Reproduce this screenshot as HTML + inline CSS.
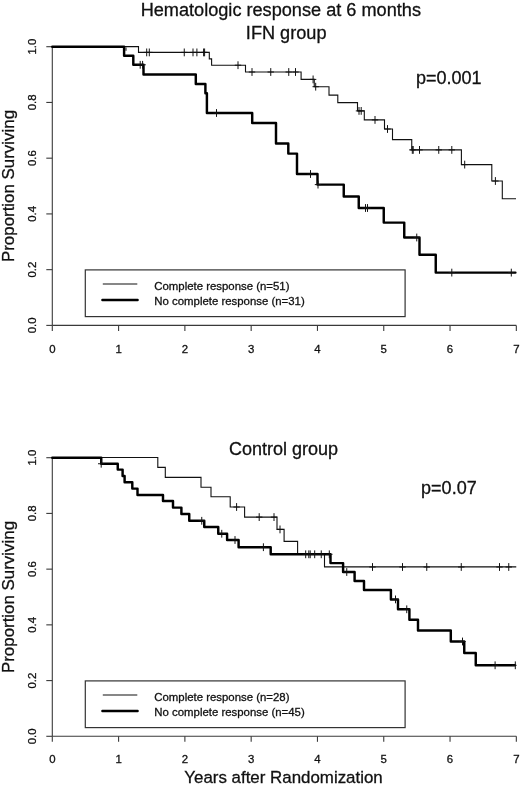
<!DOCTYPE html>
<html><head><meta charset="utf-8"><title>Hematologic response at 6 months</title>
<style>
html,body{margin:0;padding:0;background:#fff;}
svg{display:block;will-change:transform;}
text{font-family:"Liberation Sans",sans-serif;fill:#111;stroke:#111;stroke-width:0.3px;}
.tt{font-size:18px;}
.al{font-size:16.9px;}
.tk{font-size:11.4px;}
.lg{font-size:11.4px;}
.ax{stroke:#3a3a3a;stroke-width:1.1;fill:none;}
.thin{stroke:#111;stroke-width:1.1;fill:none;stroke-linejoin:miter;}
.thick{stroke:#000;stroke-width:2.45;fill:none;stroke-linejoin:round;stroke-linecap:round;}
.cs{stroke:#111;stroke-width:1;fill:none;}
.bx{stroke:#333;stroke-width:1.2;fill:none;}
</style></head>
<body>
<svg width="520" height="785" viewBox="0 0 520 785">
<defs><clipPath id="cp"><rect x="40" y="0" width="476.6" height="785"/></clipPath></defs>
<rect width="520" height="785" fill="#fff"/>
<path d="M52.3 46.7 V325.4" class="ax"/>
<path d="M52.3 325.4 H516.33" class="ax"/>
<path d="M52.30 325.4 v5.5" class="ax"/>
<text x="52.30" y="352.50" class="tk" text-anchor="middle">0</text>
<path d="M118.59 325.4 v5.5" class="ax"/>
<text x="118.59" y="352.50" class="tk" text-anchor="middle">1</text>
<path d="M184.88 325.4 v5.5" class="ax"/>
<text x="184.88" y="352.50" class="tk" text-anchor="middle">2</text>
<path d="M251.17 325.4 v5.5" class="ax"/>
<text x="251.17" y="352.50" class="tk" text-anchor="middle">3</text>
<path d="M317.46 325.4 v5.5" class="ax"/>
<text x="317.46" y="352.50" class="tk" text-anchor="middle">4</text>
<path d="M383.75 325.4 v5.5" class="ax"/>
<text x="383.75" y="352.50" class="tk" text-anchor="middle">5</text>
<path d="M450.04 325.4 v5.5" class="ax"/>
<text x="450.04" y="352.50" class="tk" text-anchor="middle">6</text>
<path d="M516.33 325.4 v5.5" class="ax"/>
<text x="516.33" y="352.50" class="tk" text-anchor="middle">7</text>
<path d="M52.3 325.40 h-6" class="ax"/>
<text transform="translate(36.4 325.40) rotate(-90)" class="tk" text-anchor="middle">0.0</text>
<path d="M52.3 269.66 h-6" class="ax"/>
<text transform="translate(36.4 269.66) rotate(-90)" class="tk" text-anchor="middle">0.2</text>
<path d="M52.3 213.92 h-6" class="ax"/>
<text transform="translate(36.4 213.92) rotate(-90)" class="tk" text-anchor="middle">0.4</text>
<path d="M52.3 158.18 h-6" class="ax"/>
<text transform="translate(36.4 158.18) rotate(-90)" class="tk" text-anchor="middle">0.6</text>
<path d="M52.3 102.44 h-6" class="ax"/>
<text transform="translate(36.4 102.44) rotate(-90)" class="tk" text-anchor="middle">0.8</text>
<path d="M52.3 46.70 h-6" class="ax"/>
<text transform="translate(36.4 46.70) rotate(-90)" class="tk" text-anchor="middle">1.0</text>
<path d="M52.3 46.6 H138.5 V52.4 H209.3 V58.9 H211.6 V65.2 H245.5 V72.0 H301.1 V79.4 H314.25 V86.7 H329 V95.1 H337.8 V102.6 H357.5 V110.9 H364.3 V119.9 H384.5 V129.0 H392.5 V139.6 H411.75 V149.9 H461.4 V164.6 H491.8 V181.0 H502.3 V198.8 H516.0" class="thin"/>
<path d="M52.3 46.7 H124.1 V55.8 H133.3 V64.8 H143.5 V74.5 H195.8 V83.9 H205.4 V93.2 H206.9 V113.0 H252.2 V123.0 H276 V143.5 H288.3 V153.6 H297 V174.0 H317.5 V184.6 H343.75 V196.4 H358.75 V208.0 H383.75 V222.6 H404.25 V237.5 H419.5 V254.7 H435.75 V272.6 H515.4" class="thick"/>
<path d="M146.7 48.50v7.8M143.50 52.4h6.4M149.3 48.50v7.8M146.10 52.4h6.4M184.25 48.50v7.8M181.05 52.4h6.4M193 48.50v7.8M189.80 52.4h6.4M196.9 48.50v7.8M193.70 52.4h6.4M203.6 48.50v7.8M200.40 52.4h6.4M204.6 48.50v7.8M201.40 52.4h6.4M238 61.30v7.8M234.80 65.2h6.4M252 68.10v7.8M248.80 72.0h6.4M270.75 68.10v7.8M267.55 72.0h6.4M288.75 68.10v7.8M285.55 72.0h6.4M295.5 68.10v7.8M292.30 72.0h6.4M313.1 75.50v7.8M309.90 79.4h6.4M315.7 82.80v7.8M312.50 86.7h6.4M359.0 107.00v7.8M355.80 110.9h6.4M361.2 107.00v7.8M358.00 110.9h6.4M375 116.00v7.8M371.80 119.9h6.4M387.5 125.10v7.8M384.30 129.0h6.4M412.3 146.00v7.8M409.10 149.9h6.4M413.2 146.00v7.8M410.00 149.9h6.4M419.5 146.00v7.8M416.30 149.9h6.4M438.75 146.00v7.8M435.55 149.9h6.4M451.8 146.00v7.8M448.60 149.9h6.4M464.7 160.70v7.8M461.50 164.6h6.4M495.4 177.10v7.8M492.20 181.0h6.4M140.2 60.90v7.8M137.00 64.8h6.4M142.6 60.90v7.8M139.40 64.8h6.4M216.5 109.10v7.8M213.30 113.0h6.4M310.5 170.10v7.8M307.30 174.0h6.4M318 180.70v7.8M314.80 184.6h6.4M365.5 204.10v7.8M362.30 208.0h6.4M367.5 204.10v7.8M364.30 208.0h6.4M416.75 233.60v7.8M413.55 237.5h6.4M451.8 268.70v7.8M448.60 272.6h6.4M511.3 268.70v7.8M508.10 272.6h6.4" class="cs" clip-path="url(#cp)"/>
<path d="M126 47.5v3.3" class="cs"/>
<rect x="85.3" y="269.90" width="319.8" height="46.7" class="bx"/>
<path d="M102.8 284.00 H137.3" class="thin"/>
<path d="M102.4 299.90 H137.6" class="thick"/>
<text x="154.3" y="289.90" class="lg">Complete response (n=51)</text>
<text x="154.3" y="305.30" class="lg">No complete response (n=31)</text>
<path d="M52.3 457.7 V736.3" class="ax"/>
<path d="M52.3 736.3 H516.33" class="ax"/>
<path d="M52.30 736.3 v5.5" class="ax"/>
<text x="52.30" y="763.40" class="tk" text-anchor="middle">0</text>
<path d="M118.59 736.3 v5.5" class="ax"/>
<text x="118.59" y="763.40" class="tk" text-anchor="middle">1</text>
<path d="M184.88 736.3 v5.5" class="ax"/>
<text x="184.88" y="763.40" class="tk" text-anchor="middle">2</text>
<path d="M251.17 736.3 v5.5" class="ax"/>
<text x="251.17" y="763.40" class="tk" text-anchor="middle">3</text>
<path d="M317.46 736.3 v5.5" class="ax"/>
<text x="317.46" y="763.40" class="tk" text-anchor="middle">4</text>
<path d="M383.75 736.3 v5.5" class="ax"/>
<text x="383.75" y="763.40" class="tk" text-anchor="middle">5</text>
<path d="M450.04 736.3 v5.5" class="ax"/>
<text x="450.04" y="763.40" class="tk" text-anchor="middle">6</text>
<path d="M516.33 736.3 v5.5" class="ax"/>
<text x="516.33" y="763.40" class="tk" text-anchor="middle">7</text>
<path d="M52.3 736.30 h-6" class="ax"/>
<text transform="translate(36.4 736.30) rotate(-90)" class="tk" text-anchor="middle">0.0</text>
<path d="M52.3 680.58 h-6" class="ax"/>
<text transform="translate(36.4 680.58) rotate(-90)" class="tk" text-anchor="middle">0.2</text>
<path d="M52.3 624.86 h-6" class="ax"/>
<text transform="translate(36.4 624.86) rotate(-90)" class="tk" text-anchor="middle">0.4</text>
<path d="M52.3 569.14 h-6" class="ax"/>
<text transform="translate(36.4 569.14) rotate(-90)" class="tk" text-anchor="middle">0.6</text>
<path d="M52.3 513.42 h-6" class="ax"/>
<text transform="translate(36.4 513.42) rotate(-90)" class="tk" text-anchor="middle">0.8</text>
<path d="M52.3 457.70 h-6" class="ax"/>
<text transform="translate(36.4 457.70) rotate(-90)" class="tk" text-anchor="middle">1.0</text>
<path d="M52.3 457.5 H157.8 V467.4 H165.3 V477.4 H201 V487.2 H211 V496.8 H230.2 V507.0 H244.6 V517.1 H277.0 V529.4 H284.1 V541.4 H297.6 V553.9 H324.5 V566.9 H516.25" class="thin"/>
<path d="M52.3 457.7 H101.25 V463.75 H117.75 V469.6 H122.6 V476 H124.6 V482.3 H132.3 V488.6 H137.5 V494.9 H163.0 V501.0 H173.0 V507.6 H181.4 V513.9 H189.25 V520.8 H204.25 V527 H218.25 V533.75 H227.1 V540 H238.6 V547.2 H270.7 V554.3 H330.5 V563.1 H343.1 V572.0 H354.6 V580.9 H364.0 V590.0 H390.9 V599.4 H398.0 V609.3 H409.4 V619.7 H418 V630.5 H450.8 V641.5 H464.25 V653.0 H475.75 V665.3 H514.7" class="thick"/>
<path d="M236.6 503.10v7.8M233.40 507.0h6.4M259.2 513.20v7.8M256.00 517.1h6.4M274.0 513.20v7.8M270.80 517.1h6.4M280.0 525.50v7.8M276.80 529.4h6.4M372.5 563.10v7.8M369.30 567h6.4M402.5 563.10v7.8M399.30 567h6.4M426.75 563.10v7.8M423.55 567h6.4M461.25 563.10v7.8M458.05 567h6.4M499.5 563.10v7.8M496.30 567h6.4M508.75 563.10v7.8M505.55 567h6.4M101.2 459.85v7.8M98.00 463.75h6.4M201.75 516.90v7.8M198.55 520.8h6.4M221.75 529.85v7.8M218.55 533.75h6.4M235 536.10v7.8M231.80 540h6.4M263.4 543.30v7.8M260.20 547.2h6.4M305.7 550.40v7.8M302.50 554.3h6.4M308.8 550.40v7.8M305.60 554.3h6.4M310.2 550.40v7.8M307.00 554.3h6.4M314.7 550.40v7.8M311.50 554.3h6.4M321.25 550.40v7.8M318.05 554.3h6.4M329.3 550.40v7.8M326.10 554.3h6.4M346.75 568.10v7.8M343.55 572.0h6.4M395.5 595.50v7.8M392.30 599.4h6.4M406.75 605.40v7.8M403.55 609.3h6.4M462.5 637.60v7.8M459.30 641.5h6.4M495.1 661.40v7.8M491.90 665.3h6.4M515.3 661.40v7.8M512.10 665.3h6.4" class="cs" clip-path="url(#cp)"/>
<rect x="85.3" y="680.90" width="319.8" height="46.7" class="bx"/>
<path d="M102.8 695.00 H137.3" class="thin"/>
<path d="M102.4 710.90 H137.6" class="thick"/>
<text x="154.3" y="700.90" class="lg">Complete response (n=28)</text>
<text x="154.3" y="716.30" class="lg">No complete response (n=45)</text>
<text x="280.8" y="15.8" class="tt" style="font-size:18.15px" text-anchor="middle">Hematologic response at 6 months</text>
<text x="286.2" y="39.4" class="tt" style="font-size:18.15px" text-anchor="middle">IFN group</text>
<text x="283.5" y="455" class="tt" text-anchor="middle">Control group</text>
<text x="416" y="83.8" class="tt">p=0.001</text>
<text x="421.1" y="494.2" class="tt">p=0.07</text>
<text transform="translate(14.2 186) rotate(-90)" class="al" text-anchor="middle">Proportion Surviving</text>
<text transform="translate(14.2 597) rotate(-90)" class="al" text-anchor="middle">Proportion Surviving</text>
<text x="283.5" y="783.2" class="al" text-anchor="middle">Years after Randomization</text>
</svg>
</body></html>
